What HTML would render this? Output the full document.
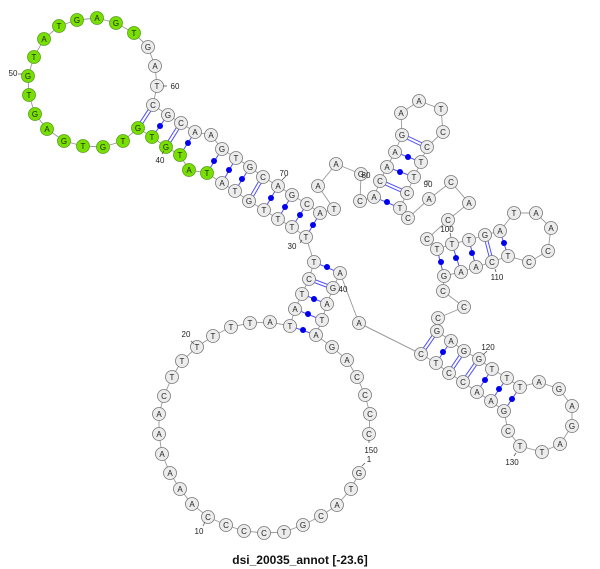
<!DOCTYPE html>
<html><head><meta charset="utf-8"><style>
body{margin:0;background:#fff;width:600px;height:569px;overflow:hidden}
svg{display:block}
.n circle{fill:#ececec;stroke:#777;stroke-width:0.8}
.g circle{fill:#77e000;stroke:#5a9a20;stroke-width:0.8}
text{font-family:"Liberation Sans",sans-serif;font-size:8px;text-anchor:middle;fill:#222}
.lb{font-size:9px;fill:#333}
.p{stroke:#5050ff;stroke-width:1}
.d{fill:#0000ee}
</style></head><body>
<svg width="600" height="569" viewBox="0 0 600 569">
<polyline fill="none" stroke="#999" stroke-width="0.9" points="359,473 351,489 337,505 321,516 303,525 284,532 264,533 244,531 226,525 208,517 192,504 180,489 170,473 162,454 159,434 159,414 164,396 172,377 182,361 197,347 213,336 231,327 250,323 270,322 290,326 295,309 302,294 309,279 314,262 306,237 292,227 278,219 264,210 249,201 235,191 222,183 207,173 189,170 180,155 166,147 152,137 138,128 123,141 103,147 83,146 64,141 47,129 35,114 29,95 28,76 34,57 44,39 59,26 77,20 97,18 116,23 134,33 148,47 155,66 157,86 153,105 168,115 181,123 195,132 211,135 222,149 236,158 250,167 263,177 278,186 292,195 307,204 320,213 334,209 318,186 336,164 361,174 360,201 374,197 380,181 387,167 395,152 402,135 401,113 419,101 441,109 443,132 427,147 421,162 414,177 407,193 400,208 408,218 429,199 451,182 469,203 448,220 427,239 437,249 452,244 469,240 485,235 500,231 514,213 536,213 551,228 548,251 529,262 508,256 492,262 476,267 461,272 444,276 443,291 464,307 438,318 437,331 451,341 464,351 479,359 492,369 507,378 520,387 539,382 559,389 572,406 572,426 560,444 542,452 520,446 508,431 504,411 491,401 477,392 463,382 449,373 436,363 421,354 359,323 340,273 333,288 327,304 322,320 316,335 332,347 347,360 357,377 365,395 370,414 369,434"/>
<g class="p">
<line x1="152" y1="137" x2="168" y2="115"/><line x1="207" y1="173" x2="222" y2="149"/><line x1="222" y1="183" x2="236" y2="158"/><line x1="235" y1="191" x2="250" y2="167"/><line x1="264" y1="210" x2="278" y2="186"/><line x1="278" y1="219" x2="292" y2="195"/><line x1="292" y1="227" x2="307" y2="204"/><line x1="306" y1="237" x2="320" y2="213"/><line x1="180" y1="155" x2="195" y2="132"/>
<line x1="314" y1="262" x2="340" y2="273"/><line x1="302" y1="294" x2="327" y2="304"/><line x1="295" y1="309" x2="322" y2="320"/><line x1="290" y1="326" x2="316" y2="335"/>
<line x1="374" y1="197" x2="400" y2="208"/><line x1="387" y1="167" x2="414" y2="177"/><line x1="395" y1="152" x2="421" y2="162"/>
<line x1="437" y1="249" x2="444" y2="276"/><line x1="452" y1="244" x2="461" y2="272"/><line x1="469" y1="240" x2="476" y2="267"/><line x1="500" y1="231" x2="508" y2="256"/>
<line x1="451" y1="341" x2="436" y2="363"/><line x1="492" y1="369" x2="477" y2="392"/><line x1="507" y1="378" x2="491" y2="401"/><line x1="520" y1="387" x2="504" y2="411"/>
</g>
<g class="p">
<line x1="154.3" y1="105.8" x2="139.3" y2="128.8"/><line x1="151.7" y1="104.2" x2="136.7" y2="127.2"/>
<line x1="182.3" y1="123.8" x2="167.3" y2="147.8"/><line x1="179.7" y1="122.2" x2="164.7" y2="146.2"/>
<line x1="264.3" y1="177.8" x2="250.3" y2="201.8"/><line x1="261.7" y1="176.2" x2="247.7" y2="200.2"/>
<line x1="309.5" y1="277.6" x2="333.5" y2="286.6"/><line x1="308.5" y1="280.4" x2="332.5" y2="289.4"/>
<line x1="380.5" y1="179.6" x2="407.5" y2="191.6"/><line x1="379.5" y1="182.4" x2="406.5" y2="194.4"/>
<line x1="402.5" y1="133.6" x2="427.5" y2="145.6"/><line x1="401.5" y1="136.4" x2="426.5" y2="148.4"/>
<line x1="486.4" y1="234.6" x2="493.4" y2="261.6"/><line x1="483.6" y1="235.4" x2="490.6" y2="262.4"/>
<line x1="438.3" y1="331.8" x2="422.3" y2="354.8"/><line x1="435.7" y1="330.2" x2="419.7" y2="353.2"/>
<line x1="465.3" y1="351.8" x2="450.3" y2="373.8"/><line x1="462.7" y1="350.2" x2="447.7" y2="372.2"/>
<line x1="480.3" y1="359.8" x2="464.3" y2="382.8"/><line x1="477.7" y1="358.2" x2="461.7" y2="381.2"/>
</g>
<g class="d">
<circle cx="160" cy="126" r="3"/><circle cx="188" cy="143" r="3"/><circle cx="214" cy="161" r="3"/><circle cx="229" cy="170" r="3"/><circle cx="242" cy="179" r="3"/><circle cx="271" cy="198" r="3"/><circle cx="285" cy="207" r="3"/><circle cx="300" cy="215" r="3"/><circle cx="313" cy="225" r="3"/>
<circle cx="327" cy="267" r="3"/><circle cx="314" cy="299" r="3"/><circle cx="308" cy="314" r="3"/><circle cx="303" cy="330" r="3"/>
<circle cx="387" cy="202" r="3"/><circle cx="400" cy="172" r="3"/><circle cx="408" cy="157" r="3"/>
<circle cx="441" cy="262" r="3"/><circle cx="456" cy="258" r="3"/><circle cx="472" cy="253" r="3"/><circle cx="504" cy="243" r="3"/>
<circle cx="443" cy="352" r="3"/><circle cx="485" cy="380" r="3"/><circle cx="499" cy="389" r="3"/><circle cx="512" cy="399" r="3"/>
</g>
<line x1="359" y1="323" x2="421" y2="354" stroke="#999" stroke-width="0.9"/>
<g class="g">
<circle cx="207" cy="173" r="6.5"/><circle cx="189" cy="170" r="6.5"/><circle cx="180" cy="155" r="6.5"/><circle cx="166" cy="147" r="6.5"/><circle cx="152" cy="137" r="6.5"/><circle cx="138" cy="128" r="6.5"/><circle cx="123" cy="141" r="6.5"/><circle cx="103" cy="147" r="6.5"/><circle cx="83" cy="146" r="6.5"/><circle cx="64" cy="141" r="6.5"/><circle cx="47" cy="129" r="6.5"/><circle cx="35" cy="114" r="6.5"/><circle cx="29" cy="95" r="6.5"/><circle cx="28" cy="76" r="6.5"/><circle cx="34" cy="57" r="6.5"/><circle cx="44" cy="39" r="6.5"/><circle cx="59" cy="26" r="6.5"/><circle cx="77" cy="20" r="6.5"/><circle cx="97" cy="18" r="6.5"/><circle cx="116" cy="23" r="6.5"/><circle cx="134" cy="33" r="6.5"/>
</g>
<g class="n">
<circle cx="359" cy="473" r="6.5"/><circle cx="351" cy="489" r="6.5"/><circle cx="337" cy="505" r="6.5"/><circle cx="321" cy="516" r="6.5"/><circle cx="303" cy="525" r="6.5"/><circle cx="284" cy="532" r="6.5"/><circle cx="264" cy="533" r="6.5"/><circle cx="244" cy="531" r="6.5"/><circle cx="226" cy="525" r="6.5"/><circle cx="208" cy="517" r="6.5"/><circle cx="192" cy="504" r="6.5"/><circle cx="180" cy="489" r="6.5"/><circle cx="170" cy="473" r="6.5"/><circle cx="162" cy="454" r="6.5"/><circle cx="159" cy="434" r="6.5"/><circle cx="159" cy="414" r="6.5"/><circle cx="164" cy="396" r="6.5"/><circle cx="172" cy="377" r="6.5"/><circle cx="182" cy="361" r="6.5"/><circle cx="197" cy="347" r="6.5"/><circle cx="213" cy="336" r="6.5"/><circle cx="231" cy="327" r="6.5"/><circle cx="250" cy="323" r="6.5"/><circle cx="270" cy="322" r="6.5"/><circle cx="290" cy="326" r="6.5"/><circle cx="295" cy="309" r="6.5"/><circle cx="302" cy="294" r="6.5"/><circle cx="309" cy="279" r="6.5"/><circle cx="314" cy="262" r="6.5"/><circle cx="306" cy="237" r="6.5"/><circle cx="292" cy="227" r="6.5"/><circle cx="278" cy="219" r="6.5"/><circle cx="264" cy="210" r="6.5"/><circle cx="249" cy="201" r="6.5"/><circle cx="235" cy="191" r="6.5"/><circle cx="222" cy="183" r="6.5"/>
<circle cx="148" cy="47" r="6.5"/><circle cx="155" cy="66" r="6.5"/><circle cx="157" cy="86" r="6.5"/><circle cx="153" cy="105" r="6.5"/><circle cx="168" cy="115" r="6.5"/><circle cx="181" cy="123" r="6.5"/><circle cx="195" cy="132" r="6.5"/><circle cx="211" cy="135" r="6.5"/><circle cx="222" cy="149" r="6.5"/><circle cx="236" cy="158" r="6.5"/><circle cx="250" cy="167" r="6.5"/><circle cx="263" cy="177" r="6.5"/><circle cx="278" cy="186" r="6.5"/><circle cx="292" cy="195" r="6.5"/><circle cx="307" cy="204" r="6.5"/><circle cx="320" cy="213" r="6.5"/><circle cx="334" cy="209" r="6.5"/><circle cx="318" cy="186" r="6.5"/><circle cx="336" cy="164" r="6.5"/><circle cx="361" cy="174" r="6.5"/><circle cx="360" cy="201" r="6.5"/><circle cx="374" cy="197" r="6.5"/><circle cx="380" cy="181" r="6.5"/><circle cx="387" cy="167" r="6.5"/><circle cx="395" cy="152" r="6.5"/><circle cx="402" cy="135" r="6.5"/><circle cx="401" cy="113" r="6.5"/><circle cx="419" cy="101" r="6.5"/><circle cx="441" cy="109" r="6.5"/><circle cx="443" cy="132" r="6.5"/><circle cx="427" cy="147" r="6.5"/><circle cx="421" cy="162" r="6.5"/><circle cx="414" cy="177" r="6.5"/><circle cx="407" cy="193" r="6.5"/><circle cx="400" cy="208" r="6.5"/><circle cx="408" cy="218" r="6.5"/><circle cx="429" cy="199" r="6.5"/><circle cx="451" cy="182" r="6.5"/><circle cx="469" cy="203" r="6.5"/><circle cx="448" cy="220" r="6.5"/><circle cx="427" cy="239" r="6.5"/><circle cx="437" cy="249" r="6.5"/><circle cx="452" cy="244" r="6.5"/><circle cx="469" cy="240" r="6.5"/><circle cx="485" cy="235" r="6.5"/><circle cx="500" cy="231" r="6.5"/><circle cx="514" cy="213" r="6.5"/><circle cx="536" cy="213" r="6.5"/><circle cx="551" cy="228" r="6.5"/><circle cx="548" cy="251" r="6.5"/><circle cx="529" cy="262" r="6.5"/><circle cx="508" cy="256" r="6.5"/><circle cx="492" cy="262" r="6.5"/><circle cx="476" cy="267" r="6.5"/><circle cx="461" cy="272" r="6.5"/><circle cx="444" cy="276" r="6.5"/><circle cx="443" cy="291" r="6.5"/><circle cx="464" cy="307" r="6.5"/><circle cx="438" cy="318" r="6.5"/><circle cx="437" cy="331" r="6.5"/><circle cx="451" cy="341" r="6.5"/><circle cx="464" cy="351" r="6.5"/><circle cx="479" cy="359" r="6.5"/><circle cx="492" cy="369" r="6.5"/><circle cx="507" cy="378" r="6.5"/><circle cx="520" cy="387" r="6.5"/><circle cx="539" cy="382" r="6.5"/><circle cx="559" cy="389" r="6.5"/><circle cx="572" cy="406" r="6.5"/><circle cx="572" cy="426" r="6.5"/><circle cx="560" cy="444" r="6.5"/><circle cx="542" cy="452" r="6.5"/><circle cx="520" cy="446" r="6.5"/><circle cx="508" cy="431" r="6.5"/><circle cx="504" cy="411" r="6.5"/><circle cx="491" cy="401" r="6.5"/><circle cx="477" cy="392" r="6.5"/><circle cx="463" cy="382" r="6.5"/><circle cx="449" cy="373" r="6.5"/><circle cx="436" cy="363" r="6.5"/><circle cx="421" cy="354" r="6.5"/><circle cx="359" cy="323" r="6.5"/><circle cx="340" cy="273" r="6.5"/><circle cx="333" cy="288" r="6.5"/><circle cx="327" cy="304" r="6.5"/><circle cx="322" cy="320" r="6.5"/><circle cx="316" cy="335" r="6.5"/><circle cx="332" cy="347" r="6.5"/><circle cx="347" cy="360" r="6.5"/><circle cx="357" cy="377" r="6.5"/><circle cx="365" cy="395" r="6.5"/><circle cx="370" cy="414" r="6.5"/><circle cx="369" cy="434" r="6.5"/>
</g>
<g>
<text x="359" y="476">G</text><text x="351" y="492">T</text><text x="337" y="508">A</text><text x="321" y="519">C</text><text x="303" y="528">G</text><text x="284" y="535">T</text><text x="264" y="536">C</text><text x="244" y="534">C</text><text x="226" y="528">C</text><text x="208" y="520">C</text><text x="192" y="507">A</text><text x="180" y="492">A</text><text x="170" y="476">A</text><text x="162" y="457">A</text><text x="159" y="437">A</text><text x="159" y="417">A</text><text x="164" y="399">C</text><text x="172" y="380">T</text><text x="182" y="364">T</text><text x="197" y="350">T</text><text x="213" y="339">T</text><text x="231" y="330">T</text><text x="250" y="326">T</text><text x="270" y="325">A</text><text x="290" y="329">T</text><text x="295" y="312">A</text><text x="302" y="297">T</text><text x="309" y="282">C</text><text x="314" y="265">T</text><text x="306" y="240">T</text><text x="292" y="230">T</text><text x="278" y="222">T</text><text x="264" y="213">T</text><text x="249" y="204">G</text><text x="235" y="194">T</text><text x="222" y="186">A</text><text x="207" y="176">T</text><text x="189" y="173">A</text><text x="180" y="158">T</text><text x="166" y="150">G</text><text x="152" y="140">T</text><text x="138" y="131">G</text><text x="123" y="144">T</text><text x="103" y="150">G</text><text x="83" y="149">T</text><text x="64" y="144">G</text><text x="47" y="132">A</text><text x="35" y="117">G</text><text x="29" y="98">T</text><text x="28" y="79">G</text><text x="34" y="60">T</text><text x="44" y="42">A</text><text x="59" y="29">T</text><text x="77" y="23">G</text><text x="97" y="21">A</text><text x="116" y="26">G</text><text x="134" y="36">T</text><text x="148" y="50">G</text><text x="155" y="69">A</text><text x="157" y="89">T</text><text x="153" y="108">C</text><text x="168" y="118">G</text><text x="181" y="126">C</text><text x="195" y="135">A</text><text x="211" y="138">A</text><text x="222" y="152">G</text><text x="236" y="161">T</text><text x="250" y="170">G</text><text x="263" y="180">C</text><text x="278" y="189">A</text><text x="292" y="198">G</text><text x="307" y="207">C</text><text x="320" y="216">A</text><text x="334" y="212">T</text><text x="318" y="189">A</text><text x="336" y="167">A</text><text x="361" y="177">G</text><text x="360" y="204">C</text><text x="374" y="200">A</text><text x="380" y="184">C</text><text x="387" y="170">A</text><text x="395" y="155">A</text><text x="402" y="138">G</text><text x="401" y="116">A</text><text x="419" y="104">A</text><text x="441" y="112">T</text><text x="443" y="135">C</text><text x="427" y="150">C</text><text x="421" y="165">T</text><text x="414" y="180">T</text><text x="407" y="196">C</text><text x="400" y="211">T</text><text x="408" y="221">C</text><text x="429" y="202">A</text><text x="451" y="185">C</text><text x="469" y="206">A</text><text x="448" y="223">C</text><text x="427" y="242">C</text><text x="437" y="252">T</text><text x="452" y="247">T</text><text x="469" y="243">T</text><text x="485" y="238">G</text><text x="500" y="234">A</text><text x="514" y="216">T</text><text x="536" y="216">A</text><text x="551" y="231">A</text><text x="548" y="254">C</text><text x="529" y="265">C</text><text x="508" y="259">T</text><text x="492" y="265">C</text><text x="476" y="270">A</text><text x="461" y="275">A</text><text x="444" y="279">G</text><text x="443" y="294">C</text><text x="464" y="310">C</text><text x="438" y="321">C</text><text x="437" y="334">G</text><text x="451" y="344">A</text><text x="464" y="354">G</text><text x="479" y="362">G</text><text x="492" y="372">T</text><text x="507" y="381">T</text><text x="520" y="390">T</text><text x="539" y="385">A</text><text x="559" y="392">G</text><text x="572" y="409">A</text><text x="572" y="429">G</text><text x="560" y="447">A</text><text x="542" y="455">T</text><text x="520" y="449">T</text><text x="508" y="434">C</text><text x="504" y="414">G</text><text x="491" y="404">A</text><text x="477" y="395">A</text><text x="463" y="385">C</text><text x="449" y="376">C</text><text x="436" y="366">T</text><text x="421" y="357">C</text><text x="359" y="326">A</text><text x="340" y="276">A</text><text x="333" y="291">G</text><text x="327" y="307">A</text><text x="322" y="323">T</text><text x="316" y="338">A</text><text x="332" y="350">G</text><text x="347" y="363">A</text><text x="357" y="380">C</text><text x="365" y="398">C</text><text x="370" y="417">C</text><text x="369" y="437">C</text>
</g>
<g stroke="#555" stroke-width="0.8">
<line x1="18" y1="74" x2="22" y2="74"/><line x1="163" y1="86" x2="167" y2="86"/><line x1="282" y1="180" x2="286" y2="176"/><line x1="300" y1="243" x2="302" y2="240"/><line x1="191" y1="341" x2="194" y2="344"/><line x1="203" y1="526" x2="205" y2="522"/><line x1="162" y1="154" x2="164" y2="151"/><line x1="369" y1="440" x2="369" y2="443"/><line x1="362" y1="466" x2="365" y2="463"/><line x1="450" y1="233" x2="451" y2="237"/><line x1="495" y1="269" x2="496" y2="272"/><line x1="483" y1="355" x2="487" y2="351"/><line x1="516" y1="453" x2="514" y2="456"/><line x1="430" y1="181" x2="425" y2="181"/>
</g>
<g class="lb">
<text x="13" y="76">50</text><text x="175" y="89">60</text><text x="160" y="163">40</text><text x="284" y="176">70</text><text x="292" y="249">30</text><text x="186" y="337">20</text><text x="199" y="534">10</text><text x="371" y="453">150</text><text x="369" y="462">1</text><text x="343" y="292">40</text><text x="366" y="178">80</text><text x="428" y="187">90</text><text x="447" y="232">100</text><text x="497" y="280">110</text><text x="488" y="350">120</text><text x="512" y="465">130</text>
</g>
<text x="300" y="564" style="font-size:12px;font-weight:bold;fill:#111">dsi_20035_annot [-23.6]</text>
</svg>
</body></html>
